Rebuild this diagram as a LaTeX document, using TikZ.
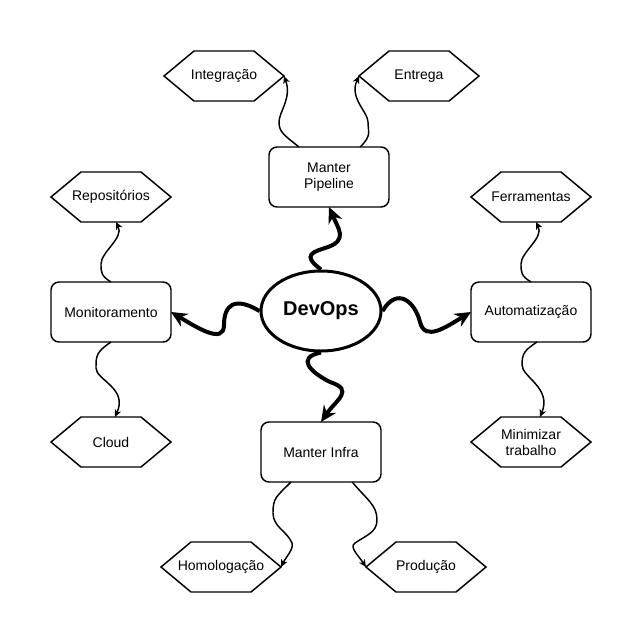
\documentclass[tikz,border=0pt]{standalone}
\usepackage{fontspec}
\setmainfont{Liberation Sans}
\usetikzlibrary{calc}
\usetikzlibrary{arrows.meta}
\usetikzlibrary{shapes.geometric}
\newcommand{\hexagon}[3]{\node[hexbox] (#1) at (#2) {#3};
\draw[hexline] (#1.west) -- ([xshift=22.5pt]#1.north west) -- ([xshift=-22.5pt]#1.north east) -- (#1.east) -- ([xshift=-22.5pt]#1.south east) -- ([xshift=22.5pt]#1.south west) -- cycle;}

\begin{document}
\begin{tikzpicture}[x=0.75pt,y=-0.75pt]
\tikzstyle{hexbox}=[inner sep=0pt, outer sep=0pt, minimum width=90pt, minimum height=37.5pt, align=center, font=\fontsize{10.5}{12}\selectfont]
\tikzstyle{hexline}=[line width=1.1pt, line join=miter]
\tikzstyle{box}=[draw, line width=1.1pt, rounded corners=6pt, minimum width=90pt, minimum height=45pt, inner sep=0pt, outer sep=0pt, align=center, font=\fontsize{10.5}{12}\selectfont]
\tikzstyle{core}=[draw, ellipse, line width=2.25pt, minimum width=90pt, minimum height=60pt, inner sep=0pt, font=\bfseries\fontsize{15}{18}\selectfont]
\tikzstyle{bigarrow}=[line width=3pt, -{Stealth[length=12pt,width=11pt,inset=4pt]}]
\tikzstyle{smallarrow}=[line width=1.1pt, -{Stealth[length=5.5pt,width=5pt,inset=1.5pt]}]

\useasboundingbox[fill=white] (0,0) rectangle (643,644);

% center and main boxes
\node[core] (devops) at (321,311) {DevOps};
\node[box] (pipeline) at (329,177) {Manter\\Pipeline};
\node[box] (monit) at (111,312) {Monitoramento};
\node[box] (autom) at (531,312) {Automatização};
\node[box] (infra) at (321,452) {Manter Infra};

% leaves
\hexagon{integ}{224,76}{Integração}
\hexagon{entrega}{419,76}{Entrega}
\hexagon{repos}{111,197}{Repositórios}
\hexagon{ferr}{531,197}{Ferramentas}
\hexagon{cloud}{111,442}{Cloud}
\hexagon{minim}{531,442}{Minimizar\\trabalho}
\hexagon{homolog}{221,567}{Homologação}
\hexagon{prod}{426,567}{Produção}

% thick wiggles from the center
\draw[bigarrow] (devops.north) .. controls +(-20,-15) and +(-15,5) .. (328,247) .. controls +(20,-7) and +(9,21) .. (pipeline.south);
\draw[bigarrow] (devops.west) .. controls +(-25,-15) and +(0,-20) .. (224,325) .. controls +(0,20) and +(25,15) .. (monit.east);
\draw[bigarrow] (devops.east) .. controls +(15,-25) and +(-5,-20) .. (420,322) .. controls +(5,20) and +(-25,15) .. (autom.west);
\draw[bigarrow] (devops.south) .. controls +(-25,5) and +(-20,-10) .. (330,382) .. controls +(25,8) and +(15,-22) .. (infra.north);

% thin wiggles to the leaves
\draw[smallarrow] ($(pipeline.north west)!0.25!(pipeline.north east)$) .. controls +(-15,-12) and +(0,10) .. (279,122) .. controls +(0,-10) and +(8,22) .. (integ.east);
\draw[smallarrow] ($(pipeline.north west)!0.76!(pipeline.north east)$) .. controls +(12,-12) and +(0,10) .. (368,122) .. controls +(0,-10) and +(-10,22) .. (entrega.west);
\draw[smallarrow] (monit.north) .. controls +(-10,-6) and +(0,8) .. (101,264) .. controls +(0,-12) and +(8,16) .. ([xshift=3.75pt]repos.south);
\draw[smallarrow] (monit.south) .. controls +(-15,10) and +(0,-12) .. (96,368) .. controls +(0,12) and +(13,-29) .. ([xshift=3pt]cloud.north);
\draw[smallarrow] (autom.north) .. controls +(-10,-6) and +(0,8) .. (521,264) .. controls +(0,-12) and +(8,16) .. ([xshift=3.75pt]ferr.south);
\draw[smallarrow] ([xshift=4.5pt]autom.south) .. controls +(-12,8) and +(0,-12) .. (522,365) .. controls +(0,12) and +(12,-29) .. ([xshift=6.75pt]minim.north);
\draw[smallarrow] ($(infra.south west)!0.25!(infra.south east)$) .. controls +(-15,15) and +(0,-15) .. (273,513) .. controls +(0,14) and +(-5,-12) .. (292,543) .. controls +(2,6) and +(5,-10) .. (homolog.east);
\draw[smallarrow] ($(infra.south west)!0.76!(infra.south east)$) .. controls +(15,18) and +(0,-15) .. (377,520) .. controls +(0,12) and +(12,-8) .. (355,543) .. controls +(-6,4) and +(-8,-12) .. (prod.west);
\end{tikzpicture}
\end{document}
